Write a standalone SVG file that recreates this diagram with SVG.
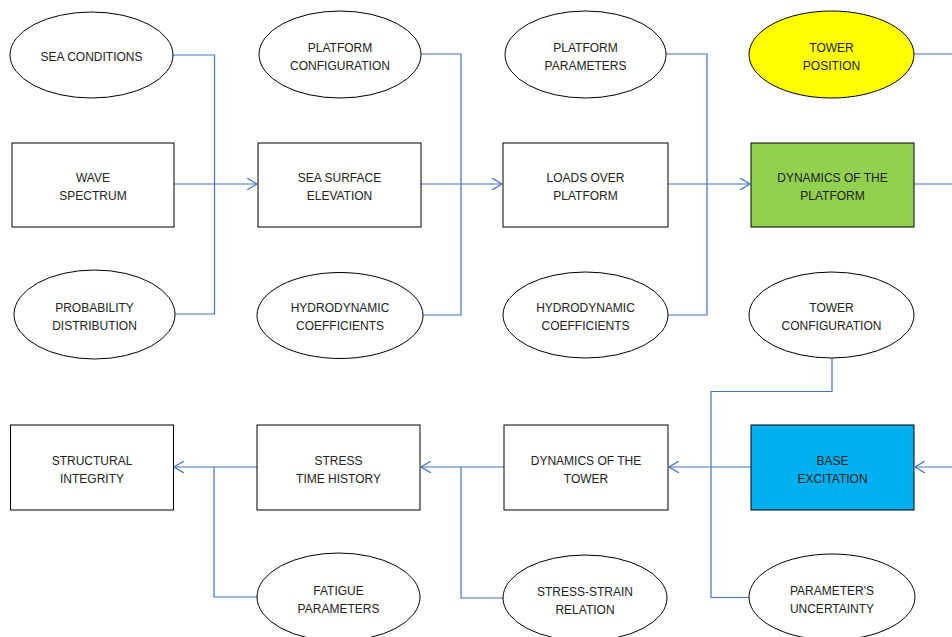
<svg xmlns="http://www.w3.org/2000/svg" width="952" height="637" viewBox="0 0 952 637">
<style>
.n{fill:#fff;stroke:#000;stroke-width:1}
.t{font-family:"Liberation Sans",Arial,sans-serif;font-size:12px;fill:#222;text-anchor:middle}
.c{fill:none;stroke:#4472C4;stroke-width:1.2}
</style>
<defs>
<marker id="ah" viewBox="0 0 10 12" refX="10" refY="6" markerWidth="10" markerHeight="12" markerUnits="userSpaceOnUse" orient="auto">
<path d="M0,0 L10,6 L0,12" fill="none" stroke="#4472C4" stroke-width="1.2"/>
</marker>
</defs>
<rect width="952" height="637" fill="#fff"/>
<g id="connectors">
<path class="c" d="M173,55 H214.5 V314 H175"/>
<path class="c" d="M174,184 H257" marker-end="url(#ah)"/>
<path class="c" d="M421,54 H461 V315 H423"/>
<path class="c" d="M421,184 H502" marker-end="url(#ah)"/>
<path class="c" d="M666,54 H707 V315 H668"/>
<path class="c" d="M668,184 H750" marker-end="url(#ah)"/>
<path class="c" d="M914,54 H952"/>
<path class="c" d="M914,184 H952"/>
<path class="c" d="M952,467 H915" marker-end="url(#ah)"/>
<path class="c" d="M832,358 V391.5 H711 V597.5 H749"/>
<path class="c" d="M751,467 H669" marker-end="url(#ah)"/>
<path class="c" d="M504,467 H421" marker-end="url(#ah)"/>
<path class="c" d="M461,467 V598 H503"/>
<path class="c" d="M257,467 H174" marker-end="url(#ah)"/>
<path class="c" d="M214,467 V597 H257"/>
</g>
<g id="sea_conditions"><ellipse class="n" cx="91.5" cy="55" rx="81.5" ry="43"/><text class="t" x="91.5" y="60.5">SEA CONDITIONS</text></g>
<g id="platform_configuration"><ellipse class="n" cx="340" cy="54.5" rx="81" ry="43.5"/><text class="t" x="340" y="51.5">PLATFORM</text><text class="t" x="340" y="69.5">CONFIGURATION</text></g>
<g id="platform_parameters"><ellipse class="n" cx="585.5" cy="54.5" rx="80.5" ry="43.5"/><text class="t" x="585.5" y="51.5">PLATFORM</text><text class="t" x="585.5" y="69.5">PARAMETERS</text></g>
<g id="tower_position"><ellipse class="n" cx="831.5" cy="54.5" rx="82.5" ry="43.5" style="fill:#FFFF00"/><text class="t" x="831.5" y="51.5">TOWER</text><text class="t" x="831.5" y="69.5">POSITION</text></g>
<g id="wave_spectrum"><rect class="n" x="12" y="143" width="162" height="84"/><text class="t" x="93" y="181.5">WAVE</text><text class="t" x="93" y="199.5">SPECTRUM</text></g>
<g id="sea_surface_elevation"><rect class="n" x="258" y="143" width="163" height="84"/><text class="t" x="339.5" y="181.5">SEA SURFACE</text><text class="t" x="339.5" y="199.5">ELEVATION</text></g>
<g id="loads_over_platform"><rect class="n" x="503" y="143" width="165" height="84"/><text class="t" x="585.5" y="181.5">LOADS OVER</text><text class="t" x="585.5" y="199.5">PLATFORM</text></g>
<g id="dynamics_platform"><rect class="n" x="751" y="143" width="163" height="84" style="fill:#92D050"/><text class="t" x="832.5" y="181.5">DYNAMICS OF THE</text><text class="t" x="832.5" y="199.5">PLATFORM</text></g>
<g id="probability_distribution"><ellipse class="n" cx="94.5" cy="314.5" rx="80.5" ry="44.5"/><text class="t" x="94.5" y="311.5">PROBABILITY</text><text class="t" x="94.5" y="329.5">DISTRIBUTION</text></g>
<g id="hydrodynamic_coefficients_1"><ellipse class="n" cx="340" cy="315.5" rx="83" ry="43"/><text class="t" x="340" y="312">HYDRODYNAMIC</text><text class="t" x="340" y="330">COEFFICIENTS</text></g>
<g id="hydrodynamic_coefficients_2"><ellipse class="n" cx="585.5" cy="315" rx="82.5" ry="43"/><text class="t" x="585.5" y="312">HYDRODYNAMIC</text><text class="t" x="585.5" y="330">COEFFICIENTS</text></g>
<g id="tower_configuration"><ellipse class="n" cx="831.5" cy="315" rx="82.5" ry="43"/><text class="t" x="831.5" y="312">TOWER</text><text class="t" x="831.5" y="330">CONFIGURATION</text></g>
<g id="structural_integrity"><rect class="n" x="10.5" y="425" width="163" height="85"/><text class="t" x="92" y="465">STRUCTURAL</text><text class="t" x="92" y="483">INTEGRITY</text></g>
<g id="stress_time_history"><rect class="n" x="257" y="425" width="163" height="85"/><text class="t" x="338.5" y="465">STRESS</text><text class="t" x="338.5" y="483">TIME HISTORY</text></g>
<g id="dynamics_tower"><rect class="n" x="504" y="425" width="164" height="85"/><text class="t" x="586" y="465">DYNAMICS OF THE</text><text class="t" x="586" y="483">TOWER</text></g>
<g id="base_excitation"><rect class="n" x="751" y="425" width="163" height="85" style="fill:#00B0F0"/><text class="t" x="832.5" y="465">BASE</text><text class="t" x="832.5" y="483">EXCITATION</text></g>
<g id="fatigue_parameters"><ellipse class="n" cx="338.5" cy="597" rx="81.5" ry="44"/><text class="t" x="338.5" y="595">FATIGUE</text><text class="t" x="338.5" y="613">PARAMETERS</text></g>
<g id="stress_strain_relation"><ellipse class="n" cx="585" cy="598" rx="82" ry="43"/><text class="t" x="585" y="596">STRESS-STRAIN</text><text class="t" x="585" y="614">RELATION</text></g>
<g id="parameters_uncertainty"><ellipse class="n" cx="832" cy="597" rx="83" ry="43"/><text class="t" x="832" y="595">PARAMETER'S</text><text class="t" x="832" y="613">UNCERTAINTY</text></g>
</svg>
